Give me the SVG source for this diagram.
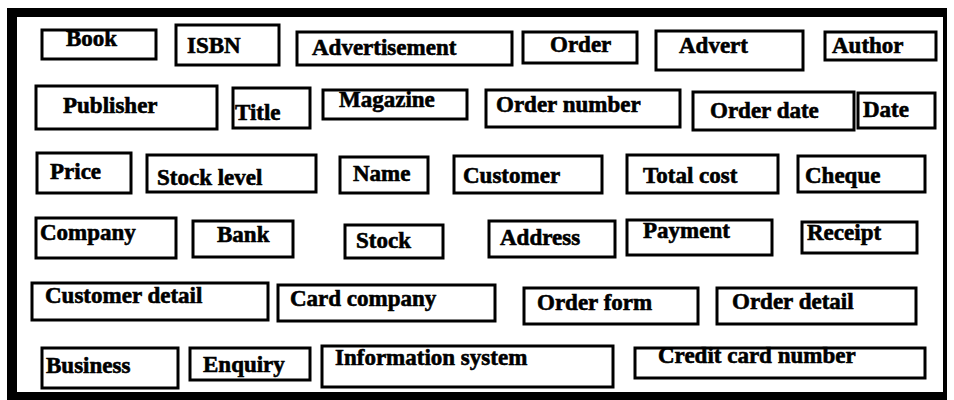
<svg xmlns="http://www.w3.org/2000/svg" width="954" height="400" viewBox="0 0 954 400">
<style>
.box rect{fill:#fff;stroke:#000;stroke-width:3}
.box text{font-family:"Liberation Serif","Times New Roman",serif;font-weight:bold;font-size:23px;fill:#000;stroke:#000;stroke-width:0.6}
</style>
<rect x="0" y="0" width="954" height="400" fill="#fff"/>
<g id="frame" fill="#000">
<rect x="7" y="8" width="940" height="9"/>
<rect x="7" y="8" width="10" height="392"/>
<rect x="943" y="8" width="4" height="392"/>
<rect x="7" y="392" width="940" height="8"/>
</g>
<g id="connectors"></g>
<g id="book" class="box"><rect x="42" y="30" width="114" height="29"/><text x="66" y="46">Book</text></g>
<g id="isbn" class="box"><rect x="176" y="25" width="103" height="40"/><text x="187" y="53">ISBN</text></g>
<g id="advertisement" class="box"><rect x="297" y="32" width="215" height="33"/><text x="312" y="55">Advertisement</text></g>
<g id="order" class="box"><rect x="523" y="32" width="114" height="31"/><text x="550" y="52">Order</text></g>
<g id="advert" class="box"><rect x="656" y="31" width="147" height="39"/><text x="679" y="53">Advert</text></g>
<g id="author" class="box"><rect x="825" y="32" width="111" height="28"/><text x="832" y="53">Author</text></g>
<g id="publisher" class="box"><rect x="36" y="86" width="181" height="43"/><text x="63" y="113">Publisher</text></g>
<g id="title" class="box"><rect x="233" y="88" width="77" height="40"/><text x="235" y="120">Title</text></g>
<g id="magazine" class="box"><rect x="323" y="90" width="144" height="29"/><text x="339" y="107">Magazine</text></g>
<g id="order-number" class="box"><rect x="486" y="90" width="194" height="37"/><text x="496" y="112">Order number</text></g>
<g id="order-date" class="box"><rect x="693" y="92" width="161" height="38"/><text x="710" y="118">Order date</text></g>
<g id="date" class="box"><rect x="858" y="93" width="77" height="35"/><text x="863" y="117">Date</text></g>
<g id="price" class="box"><rect x="37" y="153" width="94" height="40"/><text x="50" y="179">Price</text></g>
<g id="stock-level" class="box"><rect x="147" y="155" width="169" height="37"/><text x="157" y="185">Stock level</text></g>
<g id="name" class="box"><rect x="340" y="157" width="88" height="36"/><text x="353" y="181">Name</text></g>
<g id="customer" class="box"><rect x="454" y="156" width="148" height="37"/><text x="463" y="183">Customer</text></g>
<g id="total-cost" class="box"><rect x="627" y="155" width="151" height="38"/><text x="643" y="183">Total cost</text></g>
<g id="cheque" class="box"><rect x="798" y="156" width="127" height="36"/><text x="805" y="183">Cheque</text></g>
<g id="company" class="box"><rect x="36" y="218" width="140" height="40"/><text x="40" y="240">Company</text></g>
<g id="bank" class="box"><rect x="193" y="221" width="100" height="36"/><text x="217" y="242">Bank</text></g>
<g id="stock" class="box"><rect x="345" y="225" width="98" height="33"/><text x="356" y="248">Stock</text></g>
<g id="address" class="box"><rect x="489" y="221" width="126" height="36"/><text x="500" y="245">Address</text></g>
<g id="payment" class="box"><rect x="627" y="220" width="145" height="35"/><text x="643" y="238">Payment</text></g>
<g id="receipt" class="box"><rect x="802" y="222" width="115" height="31"/><text x="807" y="240">Receipt</text></g>
<g id="customer-detail" class="box"><rect x="32" y="283" width="236" height="37"/><text x="45" y="303">Customer detail</text></g>
<g id="card-company" class="box"><rect x="278" y="285" width="217" height="36"/><text x="290" y="306">Card company</text></g>
<g id="order-form" class="box"><rect x="524" y="288" width="174" height="36"/><text x="537" y="310">Order form</text></g>
<g id="order-detail" class="box"><rect x="717" y="288" width="199" height="36"/><text x="732" y="309">Order detail</text></g>
<g id="business" class="box"><rect x="42" y="348" width="136" height="40"/><text x="46" y="373">Business</text></g>
<g id="enquiry" class="box"><rect x="190" y="348" width="120" height="32"/><text x="203" y="372">Enquiry</text></g>
<g id="information-system" class="box"><rect x="322" y="346" width="291" height="41"/><text x="335" y="365">Information system</text></g>
<g id="credit-card-number" class="box"><rect x="635" y="348" width="290" height="30"/><text x="658" y="363">Credit card number</text></g>
</svg>
